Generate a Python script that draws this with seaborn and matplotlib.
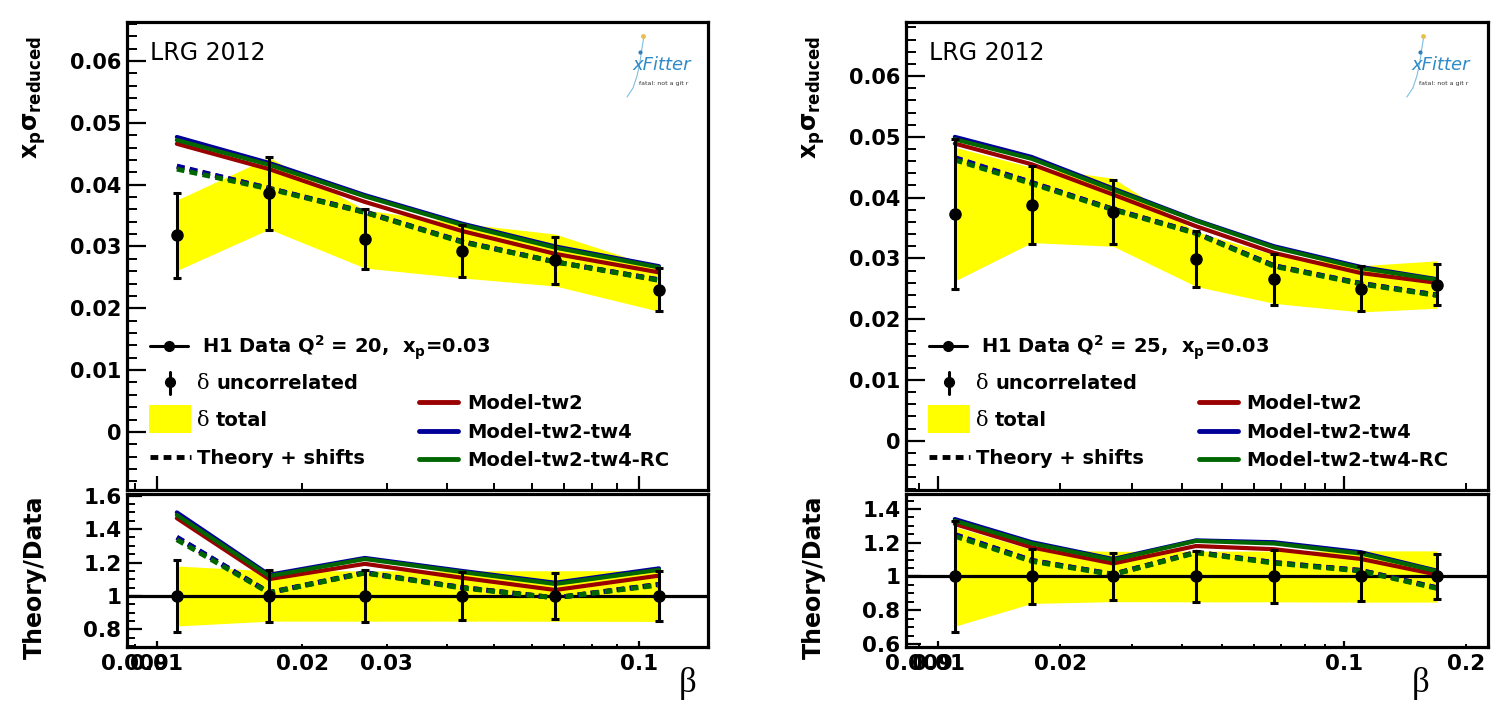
import numpy as np
import matplotlib
matplotlib.use("Agg")
import matplotlib.pyplot as plt
import seaborn as sns
from matplotlib.patches import Rectangle
from matplotlib.ticker import FixedLocator, FuncFormatter, MultipleLocator, NullFormatter

# ─────────────────────────────────────────────
# DATA
# ─────────────────────────────────────────────

# Q2 = 20 panel
beta_q20 = [0.0110, 0.0171, 0.0270, 0.0429, 0.0670, 0.110]
sigma_q20 = [0.0318, 0.0386, 0.0312, 0.0293, 0.0278, 0.0230]
unc_q20 = [0.0069, 0.0059, 0.0048, 0.0042, 0.0038, 0.0035]
tot_q20 = [0.0057, 0.0058, 0.0047, 0.0044, 0.0042, 0.0035]
tw2_q20 = [0.0466, 0.0425, 0.0372, 0.0325, 0.0288, 0.0258]
tw4_q20 = [0.0477, 0.0435, 0.0383, 0.0337, 0.0300, 0.0268]
rc_q20 = [0.0472, 0.0432, 0.0381, 0.0335, 0.0298, 0.0266]
shift_tw2_q20 = [0.0429, 0.0394, 0.0355, 0.0308, 0.0275, 0.0246]
shift_tw4_q20 = [0.0430, 0.0394, 0.0356, 0.0308, 0.0275, 0.0246]
shift_rc_q20 = [0.0425, 0.0393, 0.0355, 0.0307, 0.0275, 0.0245]

# Q2 = 25 panel
beta_q25 = [0.0110, 0.0170, 0.0270, 0.0432, 0.0673, 0.110, 0.169]
sigma_q25 = [0.0373, 0.0388, 0.0376, 0.0299, 0.0266, 0.0250, 0.0257]
unc_q25 = [0.0123, 0.0064, 0.0053, 0.0046, 0.0042, 0.0037, 0.0034]
tot_q25 = [0.0110, 0.0062, 0.0056, 0.0045, 0.0040, 0.0038, 0.0039]
tw2_q25 = [0.0489, 0.0455, 0.0405, 0.0353, 0.0309, 0.0276, 0.0260]
tw4_q25 = [0.0500, 0.0467, 0.0415, 0.0363, 0.0320, 0.0286, 0.0266]
rc_q25 = [0.0496, 0.0464, 0.0413, 0.0362, 0.0318, 0.0284, 0.0265]
shift_tw2_q25 = [0.0465, 0.0425, 0.0381, 0.0342, 0.0288, 0.0259, 0.0240]
shift_tw4_q25 = [0.0466, 0.0425, 0.0381, 0.0342, 0.0288, 0.0259, 0.0240]
shift_rc_q25 = [0.0462, 0.0423, 0.0380, 0.0341, 0.0287, 0.0258, 0.0239]

# axis ticks
minor_x = [0.009, 0.02, 0.03, 0.04, 0.05, 0.06, 0.07, 0.08, 0.09, 0.2]
labels_x_q20 = [0.009, 0.01, 0.02, 0.03, 0.1]
labels_x_q25 = [0.009, 0.01, 0.02, 0.1, 0.2]

C_TW2 = "#990000"
C_TW4 = "#000099"
C_RC = "#006600"
C_BAND = "#ffff00"

# ─────────────────────────────────────────────
# STYLE
# ─────────────────────────────────────────────

sns.set_style("ticks")
plt.rcParams["font.family"] = ["DejaVu Sans"]
plt.rcParams["font.weight"] = "bold"
plt.rcParams["mathtext.fontset"] = "dejavusans"
for key in ["text.color", "axes.labelcolor", "xtick.color", "ytick.color", "axes.edgecolor"]:
    plt.rcParams[key] = "black"

W, H = 1501, 724
fig = plt.figure(figsize=(W / 100, H / 100), dpi=100)


def box(x0, x1, top, bottom):
    return [x0 / W, 1 - bottom / H, (x1 - x0) / W, (bottom - top) / H]


def style_frame(ax):
    for sp in ax.spines.values():
        sp.set_linewidth(2.3)
        sp.set_color("black")
    ax.set_xscale("log")
    ax.set_xlabel("")
    ax.set_ylabel("")


def x_ticks(ax, labels, show):
    ax.xaxis.set_major_locator(FixedLocator([0.01, 0.1]))
    ax.xaxis.set_minor_locator(FixedLocator(minor_x))
    if show:
        fmt = FuncFormatter(lambda v, p: f"{v:g}" if np.any(np.isclose(v, labels)) else "")
        ax.xaxis.set_major_formatter(fmt)
        ax.xaxis.set_minor_formatter(fmt)
    else:
        ax.xaxis.set_major_formatter(NullFormatter())
        ax.xaxis.set_minor_formatter(NullFormatter())


def draw_legend(ax, q2):
    aw, ah = 581.0, 468.0
    tr = ax.transAxes

    def p(dx, dy):
        return dx / aw, 1 - dy / ah

    # H1 data
    (x0, y0), (x1, _) = p(23, 324), p(61, 324)
    ax.plot([x0, x1], [y0, y0], color="k", lw=2.2, transform=tr, clip_on=False)
    ax.plot(*p(42, 324), "o", color="k", ms=7, transform=tr)
    ax.text(*p(75, 331), f"H1 Data Q$^\\mathbf{{2}}$ = {q2},  x$_\\mathbf{{p}}$=0.03",
            fontsize=14, va="baseline", transform=tr)
    # delta uncorrelated
    ax.plot(*p(43, 360), "o", color="k", ms=7, transform=tr)
    (bx, by0), (_, by1) = p(43, 350), p(43, 372)
    ax.plot([bx, bx], [by0, by1], color="k", lw=2.2, transform=tr)
    ax.text(*p(70, 367), "δ", family="DejaVu Serif", fontweight="normal",
            fontsize=15, va="baseline", transform=tr)
    ax.text(*p(89, 367), "uncorrelated", fontsize=14, va="baseline", transform=tr)
    # delta total
    rx, ry = p(22, 411)
    ax.add_patch(Rectangle((rx, ry), 42 / aw, 28 / ah, color=C_BAND, lw=0, transform=tr))
    ax.text(*p(70, 404), "δ", family="DejaVu Serif", fontweight="normal",
            fontsize=15, va="baseline", transform=tr)
    ax.text(*p(89, 404), "total", fontsize=14, va="baseline", transform=tr)
    # theory + shifts
    (x0, y0), (x1, _) = p(23, 435), p(64, 435)
    ax.plot([x0, x1], [y0, y0], color="k", lw=3.5, ls=(0, (1.6, 1.1)), transform=tr)
    ax.text(*p(70, 442), "Theory + shifts", fontsize=14, va="baseline", transform=tr)
    # models
    for dy, col, name in [(380, C_TW2, "Model-tw2"), (409, C_TW4, "Model-tw2-tw4"),
                          (437, C_RC, "Model-tw2-tw4-RC")]:
        (x0, y0), (x1, _) = p(292, dy), p(331, dy)
        ax.plot([x0, x1], [y0, y0], color=col, lw=3.5, transform=tr)
        ax.text(*p(340, dy + 7), name, fontsize=14, va="baseline", transform=tr)

    # header and logo
    ax.text(*p(23, 38), "LRG 2012", fontsize=17, fontweight="normal",
            va="baseline", transform=tr)
    sx = [500, 506, 510, 513, 515, 517]
    sy = [75, 66, 54, 40, 26, 14]
    ax.plot([v / aw for v in sx], [1 - v / ah for v in sy], color="#7fbde0",
            lw=0.8, transform=tr)
    ax.plot(*p(516, 14), "o", color="#e8c050", ms=2.5, transform=tr)
    ax.plot(*p(513, 30), "o", color="#2e7fc0", ms=2, transform=tr)
    ax.text(*p(505, 48), "xFitter", fontsize=13, style="italic", fontweight="normal",
            color="#2e8bc8", va="baseline", transform=tr)
    ax.text(*p(512, 63), "fatal: not a git r", fontsize=4.5, fontweight="normal",
            color="#333333", va="baseline", transform=tr)


def draw_panel(x0, x1, q2, beta, sigma, unc, tot, models, shifts, xlim, ylim_top, ylim_ratio,
               labels, beta_x):
    beta = np.array(beta)
    sigma = np.array(sigma)
    unc = np.array(unc)
    tot = np.array(tot)
    colors = [C_TW2, C_TW4, C_RC]

    # ── top panel ──
    ax = fig.add_axes(box(x0, x1, 22, 490))
    style_frame(ax)
    ax.fill_between(beta, sigma - tot, sigma + tot, color=C_BAND, lw=0, zorder=1)
    for m, c in zip(models, colors):
        sns.lineplot(x=beta, y=m, ax=ax, color=c, lw=3, errorbar=None, zorder=2)
    for s, c in zip(shifts, colors):
        sns.lineplot(x=beta, y=s, ax=ax, color=c, lw=3.5, ls=(0, (1.6, 1.1)),
                     errorbar=None, zorder=2)
    ax.errorbar(beta, sigma, yerr=unc, fmt="o", color="k", ms=8, elinewidth=2.2,
                capsize=3, capthick=2.2, zorder=3)
    ax.set_xlim(*xlim)
    ax.set_ylim(*ylim_top)
    ax.set_xlabel("")
    ax.set_ylabel("")
    x_ticks(ax, labels, False)
    ax.yaxis.set_major_locator(MultipleLocator(0.01))
    ax.yaxis.set_minor_locator(MultipleLocator(0.002))
    ax.yaxis.set_major_formatter(FuncFormatter(lambda v, p: f"{v:g}" if abs(v) > 1e-9 else "0"))
    ax.tick_params(axis="y", which="major", direction="in", length=14, width=1.6,
                   labelsize=15, pad=4)
    ax.tick_params(axis="y", which="minor", direction="in", length=7, width=1.4)
    ax.tick_params(axis="x", which="major", direction="in", length=10, width=1.6)
    ax.tick_params(axis="x", which="minor", direction="in", length=5, width=1.4)
    draw_legend(ax, q2)
    fig.text((x0 - 92) / W, 1 - 97 / H,
             r"$\mathbf{x}_{\mathbf{p}}\mathrm{\sigma}_{\mathbf{reduced}}$",
             rotation=90, ha="center", va="center", fontsize=17)

    # ── ratio panel ──
    ar = fig.add_axes(box(x0, x1, 494, 647))
    style_frame(ar)
    ar.fill_between(beta, 1 - tot / sigma, 1 + tot / sigma, color=C_BAND, lw=0, zorder=1)
    ar.axhline(1, color="k", lw=2.3, zorder=2)
    for m, c in zip(models, colors):
        sns.lineplot(x=beta, y=np.array(m) / sigma, ax=ar, color=c, lw=3,
                     errorbar=None, zorder=2)
    for s, c in zip(shifts, colors):
        sns.lineplot(x=beta, y=np.array(s) / sigma, ax=ar, color=c, lw=3.5,
                     ls=(0, (1.6, 1.1)), errorbar=None, zorder=2)
    ar.errorbar(beta, np.ones_like(beta), yerr=unc / sigma, fmt="o", color="k", ms=8,
                elinewidth=2.2, capsize=3, capthick=2.2, zorder=3)
    ar.set_xlim(*xlim)
    ar.set_ylim(*ylim_ratio)
    ar.set_xlabel("")
    ar.set_ylabel("")
    x_ticks(ar, labels, True)
    ar.yaxis.set_major_locator(MultipleLocator(0.2))
    ar.yaxis.set_minor_locator(MultipleLocator(0.05))
    ar.yaxis.set_major_formatter(FuncFormatter(lambda v, p: f"{v:g}"))
    ar.tick_params(axis="y", which="major", direction="in", length=11, width=1.6,
                   labelsize=15.5, pad=4)
    ar.tick_params(axis="y", which="minor", direction="in", length=5.5, width=1.4)
    ar.tick_params(axis="x", which="major", direction="in", length=4, width=1.6,
                   labelsize=15.5, pad=5)
    ar.tick_params(axis="x", which="minor", direction="in", length=2.5, width=1.4,
                   labelsize=15.5, pad=5)
    fig.text((x0 - 92) / W, 1 - 577 / H, "Theory/Data", rotation=90,
             ha="center", va="center", fontsize=17)
    fig.text(beta_x / W, 1 - 684 / H, "β", family="Liberation Serif",
             fontweight="normal", fontsize=25, ha="center", va="center")


draw_panel(127, 708, 20, beta_q20, sigma_q20, unc_q20, tot_q20,
           [tw2_q20, tw4_q20, rc_q20], [shift_tw2_q20, shift_tw4_q20, shift_rc_q20],
           (0.00867, 0.139), (-0.0094, 0.0663), (0.695, 1.61), labels_x_q20, 688)
draw_panel(906, 1488, 25, beta_q25, sigma_q25, unc_q25, tot_q25,
           [tw2_q25, tw4_q25, rc_q25], [shift_tw2_q25, shift_tw4_q25, shift_rc_q25],
           (0.00834, 0.2263), (-0.0081, 0.0689), (0.582, 1.489), labels_x_q25, 1421)

fig.savefig("out.png", dpi=100)
